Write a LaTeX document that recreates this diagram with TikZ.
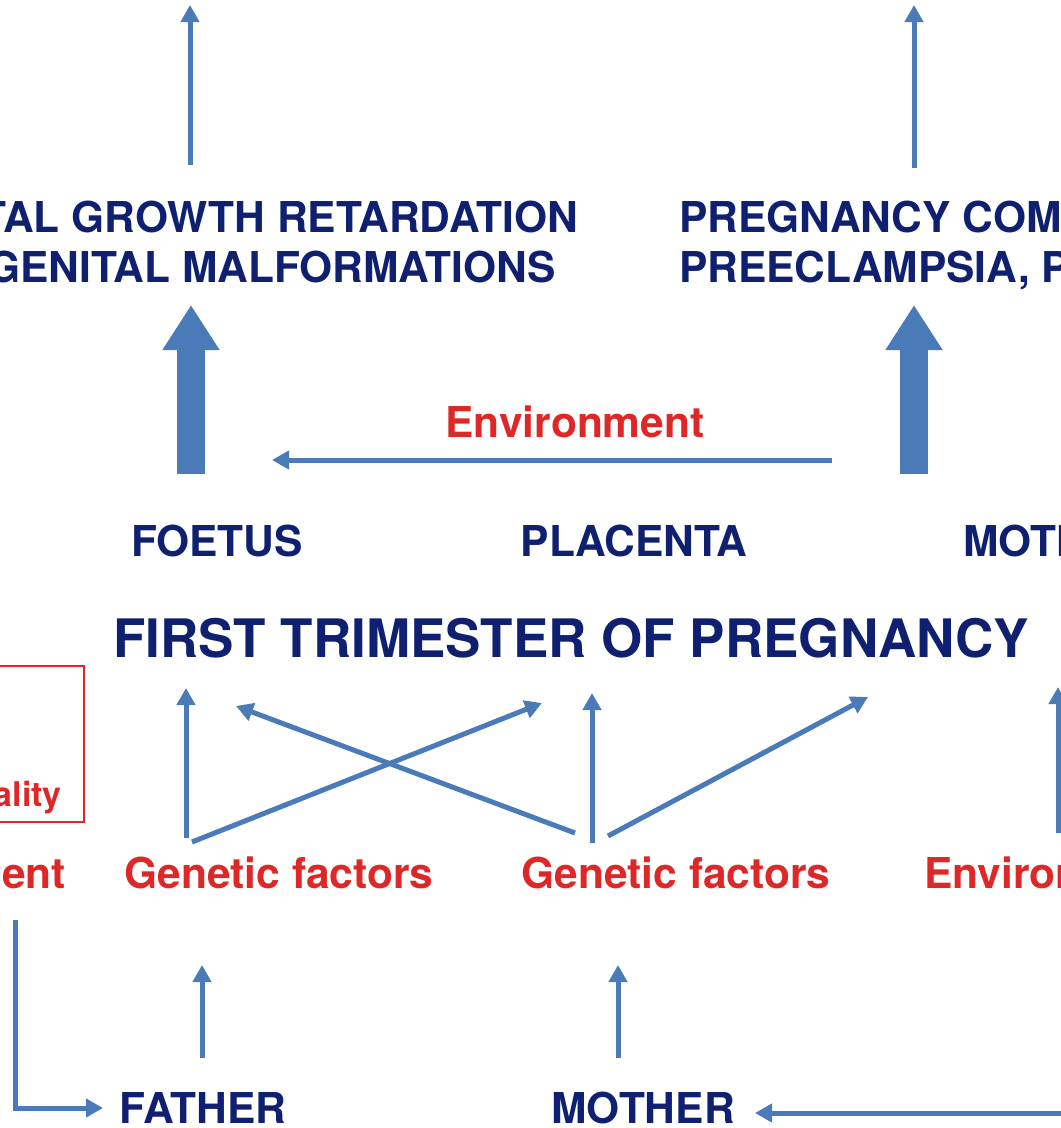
\documentclass[tikz,border=0pt]{standalone}
\usepackage{fontspec}
\setmainfont{TeX Gyre Heros}
\usepackage{tikz}
\usetikzlibrary{arrows.meta,positioning}
\definecolor{navy}{RGB}{16,32,112}
\definecolor{arrowblue}{RGB}{74,122,184}
\definecolor{envred}{RGB}{222,40,40}

\begin{document}
\begin{tikzpicture}[x=1pt, y=-1pt,
    lbl/.style={inner sep=0pt, anchor=base, text=navy, font=\fontsize{42.5}{50}\selectfont\bfseries},
    factor/.style={lbl, text=envred},
    arr/.style={draw=arrowblue, line width=5pt, -{Triangle[width=18pt,length=17pt]}},
    bigarr/.style={draw=arrowblue, line width=28pt, -{Triangle[width=54pt,length=45pt]}}]
    \useasboundingbox (0,0) rectangle (1061,1128);
    \clip (0,0) rectangle (1061,1128);

    % Outcomes
    \node[lbl, anchor=base east] (outL1) at (578,232) {TAL GROWTH RETARDATION};
    \node[lbl, anchor=base east] (outL2) at (556,282) {GENITAL MALFORMATIONS};
    \node[lbl, anchor=base west] (outR1) at (679,232) {PREGNANCY COMPLICATIONS};
    \node[lbl, anchor=base west] (outR2) at (679,282) {PREECLAMPSIA, P};
    \coordinate (upL) at (190,5);
    \coordinate (upR) at (914,5);

    % Feto-placental unit
    \node[factor] (envtop) at (575,437) {Environment};
    \node[lbl] (foetus) at (217,556) {FOETUS};
    \node[lbl] (placenta) at (634,556) {PLACENTA};
    \node[lbl, anchor=base west] (motherT) at (963,556) {MOTHER};
    \node[lbl, font=\fontsize{53}{60}\selectfont\bfseries] (title) at (571,657) {FIRST TRIMESTER OF PREGNANCY};

    % Factors
    \draw[envred, line width=1.5pt] (-10,666) rectangle (84,822);
    \node[factor, anchor=base east, font=\fontsize{34}{40}\selectfont\bfseries] (ality) at (62,806) {ality};
    \node[factor, anchor=base east] (envL) at (66,888) {Environment};
    \node[factor] (gfa) at (279,888) {Genetic factors};
    \node[factor] (gfb) at (676,888) {Genetic factors};
    \node[factor, anchor=base west] (envR) at (924,888) {Environment};

    % Parents
    \node[lbl] (father) at (203,1123) {FATHER};
    \node[lbl] (mother) at (643,1123) {MOTHER};
    \coordinate (envB) at (1075,1113);

    % Arrows
    \draw[arr] ([xshift=-388pt,yshift=67pt]outL1.base east) -- (upL);
    \draw[arr] ([xshift=235pt,yshift=64pt]outR1.base west) -- (upR);
    \draw[bigarr] ([xshift=-26pt,yshift=82pt]foetus.base) -- ([xshift=-365pt,yshift=-23pt]outL2.base east);
    \draw[bigarr] ([xshift=-49pt,yshift=82pt]motherT.base west) -- ([xshift=235pt,yshift=-23pt]outR2.base west);
    \draw[arr] ([xshift=257pt,yshift=-23pt]envtop.base) -- ([xshift=-303pt,yshift=-23pt]envtop.base);

    \draw[arr] ([xshift=-93pt,yshift=50pt]gfa.base) -- ([xshift=-385pt,yshift=-31pt]title.base);
    \draw[arr] ([xshift=-87pt,yshift=46pt]gfa.base) -- ([xshift=-29pt,yshift=-46pt]title.base);
    \draw[arr] ([xshift=-101pt,yshift=55pt]gfb.base) -- ([xshift=-335pt,yshift=-49pt]title.base);
    \draw[arr] ([xshift=-84pt,yshift=45pt]gfb.base) -- ([xshift=21pt,yshift=-36pt]title.base);
    \draw[arr] ([xshift=-68pt,yshift=52pt]gfb.base) -- ([xshift=297pt,yshift=-40pt]title.base);
    \draw[arr] ([xshift=134pt,yshift=55pt]envR.base west) -- ([xshift=487pt,yshift=-30pt]title.base);

    \draw[arr] ([xshift=-1pt,yshift=65pt]father.base) -- ([xshift=-77pt,yshift=-77pt]gfa.base);
    \draw[arr] ([xshift=-25pt,yshift=65pt]mother.base) -- ([xshift=-58pt,yshift=-77pt]gfb.base);
    \draw[arr] ([xshift=-51pt,yshift=-32pt]envL.base east) |- ([xshift=-100pt,yshift=15pt]father.base);
    \draw[arr] (envB) -- ([xshift=112pt,yshift=10pt]mother.base);
\end{tikzpicture}
\end{document}
